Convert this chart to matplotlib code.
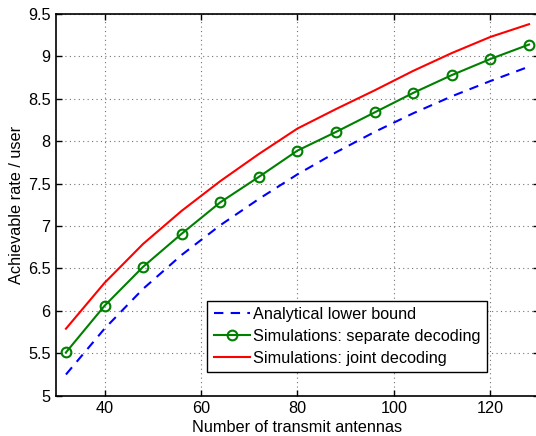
import numpy as np
import matplotlib.pyplot as plt

plt.rcParams['font.family'] = ['Liberation Sans', 'DejaVu Sans']

antennas = [32, 40, 48, 56, 64, 72, 80, 88, 96, 104, 112, 120, 128]
lower_bound = [5.25, 5.79, 6.26, 6.66, 7.01, 7.32, 7.61, 7.87, 8.11, 8.33, 8.53, 8.71, 8.88]
separate_dec = [5.51, 6.06, 6.52, 6.91, 7.28, 7.58, 7.89, 8.11, 8.34, 8.57, 8.78, 8.97, 9.14]
joint_dec = [5.79, 6.33, 6.79, 7.18, 7.53, 7.85, 8.15, 8.38, 8.60, 8.83, 9.04, 9.23, 9.38]

fs = 11.7

fig = plt.figure(figsize=(5.36, 4.36), dpi=100)
ax = fig.add_axes([56.3/536, 40.3/436, 482.4/536, 381.7/436])

ax.plot(antennas, lower_bound, '--', color='b', lw=1.5, dashes=(4.5, 3.5),
        label='Analytical lower bound')
ax.plot(antennas, separate_dec, '-o', color=(0, 0.5, 0), lw=1.5, ms=7,
        mfc='none', mew=1.5, label='Simulations: separate decoding')
ax.plot(antennas, joint_dec, '-', color='r', lw=1.5,
        label='Simulations: joint decoding')

ax.set_xlim(30, 130)
ax.set_ylim(5, 9.5)
ax.set_xticks([40, 60, 80, 100, 120])
ax.set_yticks(np.arange(5, 9.51, 0.5))
ax.set_yticklabels(['5', '5.5', '6', '6.5', '7', '7.5', '8', '8.5', '9', '9.5'])
ax.tick_params(direction='in', top=True, right=True, labelsize=fs, length=4, width=1, pad=4)
ax.grid(True, linestyle=(0, (1, 3)), color='0.45', lw=0.8)
for s in ax.spines.values():
    s.set_linewidth(1.2)

ax.set_xlabel('Number of transmit antennas', fontsize=fs, labelpad=2.5)
ax.set_ylabel('Achievable rate / user', fontsize=fs, labelpad=3)

leg = ax.legend(loc='lower left', bbox_to_anchor=(207.3/536, 63.7/436),
                bbox_transform=fig.transFigure, fontsize=fs, fancybox=False,
                framealpha=1, edgecolor='k', handlelength=2.2, handletextpad=0.2,
                borderpad=0.4, labelspacing=0.42, borderaxespad=0)
leg.get_frame().set_linewidth(1.0)

fig.savefig('out.png', dpi=100)
